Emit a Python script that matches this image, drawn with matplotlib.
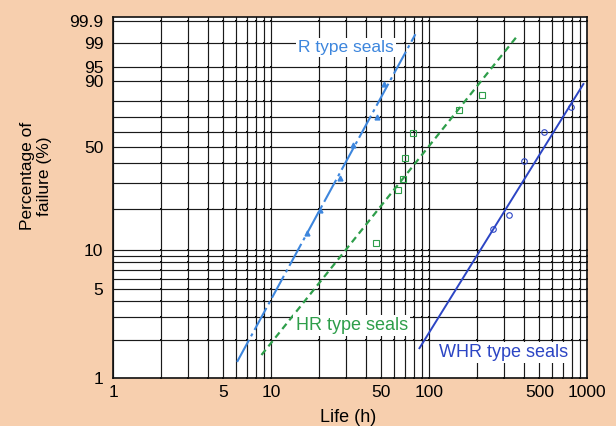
import numpy as np
import matplotlib
matplotlib.use("Agg")
import matplotlib.pyplot as plt

plt.rcParams['font.family'] = ['Liberation Sans', 'DejaVu Sans']

# ---- data ----
r_line_life = [6.1, 82]
r_line_pct = [1.34, 99.57]
hr_line_life = [8.7, 355]
hr_line_pct = [1.52, 99.4]
whr_line_life = [87, 949]
whr_line_pct = [1.72, 88.8]

r_pts_life = [16.9, 20.3, 27.2, 33.0, 46.7, 52]
r_pts_pct = [13.4, 19.6, 32.3, 51, 69.6, 89]
hr_pts_life = [46.3, 63.5, 68.9, 71, 78.9, 155.6, 216.5]
hr_pts_pct = [11.2, 27, 31.8, 43.4, 59.3, 74.4, 83.3]
whr_pts_life = [255, 319, 400, 536, 790]
whr_pts_pct = [14.2, 18, 41.6, 59.7, 76.1]

x_ticks = [1, 5, 10, 50, 100, 500, 1000]
y_ticks = [1, 5, 10, 50, 90, 95, 99, 99.9]
y_tick_labels = ["1", "5", "10", "50", "90", "95", "99", "99.9"]
x_grid = [1, 2, 3, 4, 5, 6, 7, 8, 9, 10, 20, 30, 40, 50, 60, 70, 80, 90,
          100, 200, 300, 400, 500, 600, 700, 800, 900, 1000]
y_grid = [1, 2, 3, 4, 5, 6, 7, 8, 9, 10, 20, 30, 40, 50, 60, 70, 80, 90, 95, 99, 99.9]


def fwd(p):
    p = np.clip(np.asarray(p, dtype=float), 1e-6, 100 - 1e-6)
    return np.log(-np.log(1 - p / 100.0))


def inv(y):
    y = np.asarray(y, dtype=float)
    return 100.0 * (1 - np.exp(-np.exp(y)))


bg = "#F7CFAE"
fig = plt.figure(figsize=(6.16, 4.26), dpi=100, facecolor=bg)
ax = fig.add_axes([113 / 616, 1 - 378 / 426, (587 - 113) / 616, (378 - 17) / 426])
ax.set_facecolor("white")
ax.set_xscale("log")
ax.set_yscale("function", functions=(fwd, inv))
ax.set_xlim(1, 1000)
ax.set_ylim(1, 99.943)

for xv in x_grid:
    ax.axvline(xv, color="#1a1a1a", lw=0.85, zorder=1)
for yv in y_grid:
    ax.axhline(yv, color="#1a1a1a", lw=0.85, zorder=1)

# intersection dots
gx, gy = np.meshgrid(x_grid, y_grid)
ax.scatter(gx.ravel(), gy.ravel(), s=4, marker="s", color="#111", zorder=1.5, lw=0)

c_r = "#3D86DD"
c_hr = "#2E9E4A"
c_whr = "#2C45C4"

ax.plot(r_line_life, r_line_pct, color=c_r, lw=1.5, dashes=(12, 2, 1.5, 2), zorder=3)
ax.plot(hr_line_life, hr_line_pct, color=c_hr, lw=1.6, dashes=(3, 2), zorder=3)
ax.plot(whr_line_life, whr_line_pct, color=c_whr, lw=1.4, zorder=3)

ax.plot(r_pts_life, r_pts_pct, ls="none", marker="^", ms=3.5, color=c_r, zorder=4)
ax.plot(hr_pts_life, hr_pts_pct, ls="none", marker="s", ms=4, mfc="none", mec=c_hr, mew=0.8, zorder=4)
ax.plot(whr_pts_life, whr_pts_pct, ls="none", marker="o", ms=4, mfc="none", mec=c_whr, mew=0.8, zorder=4)

box = dict(facecolor="white", edgecolor="none", pad=1.5)
ax.text(14.9, 98.6, "R type seals", color=c_r, fontsize=12.5, ha="left", va="center", bbox=box, zorder=5)
ax.text(14.3, 2.6, "HR type seals", color=c_hr, fontsize=13, ha="left", va="center", bbox=box, zorder=5)
ax.text(116, 1.6, "WHR type seals", color=c_whr, fontsize=13, ha="left", va="center", bbox=box, zorder=5)

ax.set_xticks(x_ticks)
ax.set_xticklabels([str(v) for v in x_ticks], fontsize=12.5)
ax.xaxis.set_minor_locator(matplotlib.ticker.NullLocator())
ax.set_yticks(y_ticks)
ax.set_yticklabels(y_tick_labels, fontsize=12.5)
ax.yaxis.set_minor_locator(matplotlib.ticker.NullLocator())
ax.tick_params(axis="x", length=0, pad=5)
ax.tick_params(axis="y", length=0, pad=7)
for s in ax.spines.values():
    s.set_color("#111")
    s.set_linewidth(1.2)

fig.text(348 / 616, 1 - 418 / 426, "Life (h)", fontsize=13, ha="center", va="center")
fig.text(36 / 616, 1 - 176 / 426, "Percentage of\nfailure (%)", fontsize=12.5,
         ha="center", va="center", rotation=90, linespacing=1.1)

fig.savefig("out.png", dpi=100, facecolor=bg)
